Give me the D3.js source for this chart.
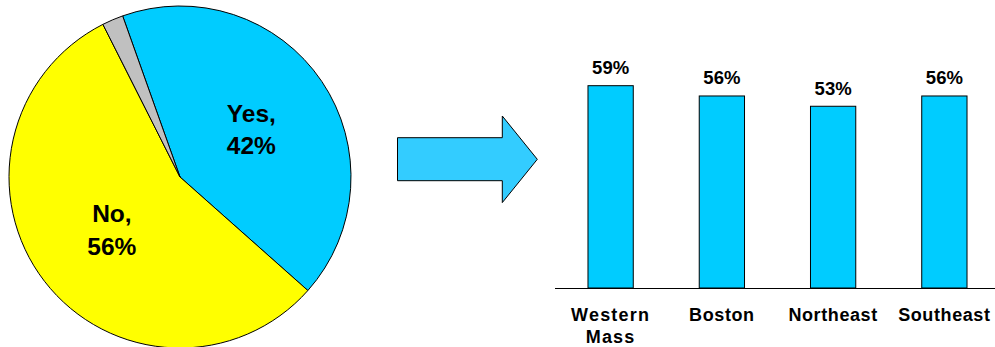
<!DOCTYPE html>
<html>
<head>
<meta charset="utf-8">
<script src="https://cdn.jsdelivr.net/npm/d3@7"></script>
<style>
  html, body { margin: 0; padding: 0; background: #fff; }
  svg { display: block; font-family: Arial, "Liberation Sans", Helvetica, sans-serif; font-weight: bold; }
</style>
</head>
<body>
<svg id="chart" width="995" height="347"></svg>
<script>
// Overall answer split
const pieLabels = ["Yes", "No", "Other"];
const pieValues = [42, 56, 2];
const pieColors = ["#00CCFF", "#FFFF00", "#C0C0C0"];

// "Yes" share by region
const regions = ["Western Mass", "Boston", "Northeast", "Southeast"];
const regionValues = [59, 56, 53, 56];

const svg = d3.select("#chart");

// ---- Pie ----
const cx = 180, cy = 177, radius = 171;
const start = -19.6 * Math.PI / 180;
const pie = d3.pie().sort(null).value(d => d.value)
  .startAngle(start).endAngle(start + 2 * Math.PI);
const slices = pie(pieLabels.map((l, i) => ({ label: l, value: pieValues[i], color: pieColors[i] })));
const arc = d3.arc().innerRadius(0).outerRadius(radius);
const labelArc = d3.arc().innerRadius(86).outerRadius(86);

const pg = svg.append("g").attr("transform", `translate(${cx},${cy})`);
pg.selectAll("path").data(slices).join("path")
  .attr("d", arc)
  .attr("fill", d => d.data.color)
  .attr("stroke", "#000")
  .attr("stroke-width", 1);

const pl = pg.selectAll("text").data(slices.filter(d => d.data.value > 5)).join("text")
  .attr("text-anchor", "middle")
  .attr("font-size", 24.5)
  .attr("fill", "#000")
  .attr("transform", d => `translate(${labelArc.centroid(d)})`);
pl.append("tspan").attr("x", 0).attr("y", -7).text(d => d.data.label + ",");
pl.append("tspan").attr("x", 0).attr("y", 25.5).text(d => d.data.value + "%");

// ---- Arrow ----
const arrow = d3.path();
arrow.moveTo(397.5, 137.7);
arrow.lineTo(502.3, 137.7);
arrow.lineTo(502.3, 116);
arrow.lineTo(537.3, 159.3);
arrow.lineTo(502.3, 202.6);
arrow.lineTo(502.3, 180.7);
arrow.lineTo(397.5, 180.7);
arrow.closePath();
svg.append("path").attr("d", arrow.toString())
  .attr("fill", "#33CCFF").attr("stroke", "#000").attr("stroke-width", 1);

// ---- Bars ----
const x = d3.scaleBand().domain(regions).range([555, 1000]).paddingInner(0.593).paddingOuter(0.2965);
const y = d3.scaleLinear().domain([0, 100]).range([288, -54.9]);

const bg = svg.append("g");
bg.selectAll("rect").data(regions).join("rect")
  .attr("x", d => x(d))
  .attr("y", (d, i) => y(regionValues[i]))
  .attr("width", x.bandwidth())
  .attr("height", (d, i) => y(0) - y(regionValues[i]))
  .attr("fill", "#00CCFF")
  .attr("stroke", "#000")
  .attr("stroke-width", 1);

bg.selectAll("text.val").data(regions).join("text")
  .attr("class", "val")
  .attr("x", d => x(d) + x.bandwidth() / 2)
  .attr("y", (d, i) => y(regionValues[i]) - 11.7)
  .attr("text-anchor", "middle")
  .attr("font-size", 18.5)
  .text((d, i) => regionValues[i] + "%");

// baseline axis
svg.append("line")
  .attr("x1", 555).attr("x2", 995)
  .attr("y1", y(0) + 0.5).attr("y2", y(0) + 0.5)
  .attr("stroke", "#000").attr("stroke-width", 1);

// category labels (wrapped on spaces)
const cl = bg.selectAll("text.cat").data(regions).join("text")
  .attr("class", "cat")
  .attr("text-anchor", "middle")
  .attr("font-size", 18)
  .attr("letter-spacing", d => d.includes(" ") ? 1.2 : 0.6);
cl.each(function (d) {
  const t = d3.select(this);
  d.split(" ").forEach((w, i) => {
    t.append("tspan")
      .attr("x", x(d) + x.bandwidth() / 2)
      .attr("y", 320.7 + i * 22)
      .text(w);
  });
});
</script>
</body>
</html>
